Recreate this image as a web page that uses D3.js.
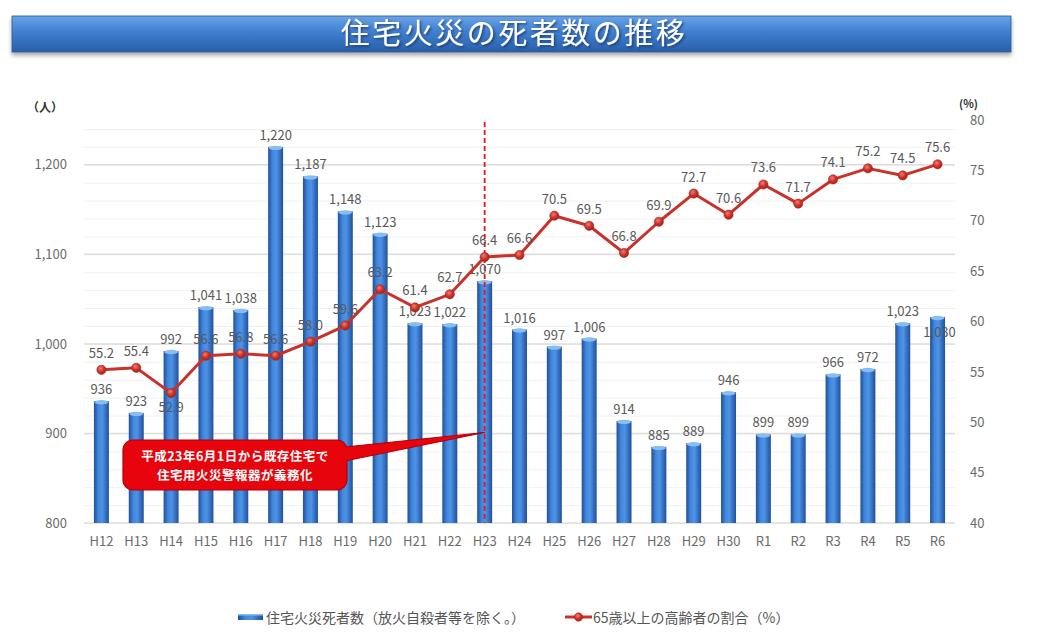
<!DOCTYPE html>
<html lang="ja">
<head>
<meta charset="utf-8">
<script src="https://cdn.jsdelivr.net/npm/d3@7"></script>
<style>
  body { margin: 0; background: #fff; }
  svg text { font-family: "Noto Sans CJK JP", "Noto Sans", sans-serif; }
</style>
</head>
<body>
<svg id="chart" width="1038" height="636"></svg>
<script>
// data
const years = ["H12","H13","H14","H15","H16","H17","H18","H19","H20","H21","H22","H23",
  "H24","H25","H26","H27","H28","H29","H30","R1","R2","R3","R4","R5","R6"];
const deaths = [936, 923, 992, 1041, 1038, 1220, 1187, 1148, 1123, 1023, 1022, 1070,
  1016, 997, 1006, 914, 885, 889, 946, 899, 899, 966, 972, 1023, 1030];
const elderlyShare = [55.2, 55.4, 52.9, 56.6, 56.8, 56.6, 58.0, 59.6, 63.2, 61.4, 62.7, 66.4,
  66.6, 70.5, 69.5, 66.8, 69.9, 72.7, 70.6, 73.6, 71.7, 74.1, 75.2, 74.5, 75.6];
const leftTicks = [800, 900, 1000, 1100, 1200];
const rightTicks = [40, 45, 50, 55, 60, 65, 70, 75, 80];
const title = "住宅火災の死者数の推移";
const barName = "住宅火災死者数（放火自殺者等を除く。）";
const lineName = "65歳以上の高齢者の割合（%）";
const markYear = "H23";
const calloutLines = ["平成23年6月1日から既存住宅で", "住宅用火災警報器が義務化"];

const svg = d3.select("#chart");
const defs = svg.append("defs");

const plotL = 84, plotR = 955, plotT = 120, plotB = 523;

const x = d3.scaleBand().domain(years).range([plotL, plotR]).paddingInner(0.57).paddingOuter(0.285);
const yL = d3.scaleLinear().domain([800, 1250]).range([plotB, plotT]);
const yR = d3.scaleLinear().domain([40, 80]).range([plotB, plotT]);

// gradients
const bg = defs.append("linearGradient").attr("id", "barGrad").attr("x1", 0).attr("x2", 1).attr("y1", 0).attr("y2", 0);
[[0, "#1f4f9c"], [0.3, "#4287dc"], [0.55, "#4d93e6"], [1, "#21509c"]]
  .forEach(([o, c]) => bg.append("stop").attr("offset", o).attr("stop-color", c));

const tg = defs.append("linearGradient").attr("id", "titleGrad").attr("x1", 0).attr("x2", 0).attr("y1", 0).attr("y2", 1);
[[0, "#6aa3e6"], [0.45, "#3f7fd0"], [1, "#2a5ea9"]]
  .forEach(([o, c]) => tg.append("stop").attr("offset", o).attr("stop-color", c));

const mg = defs.append("radialGradient").attr("id", "markGrad").attr("cx", 0.4).attr("cy", 0.35).attr("r", 0.7);
[[0, "#f08070"], [0.5, "#d0352c"], [1, "#9c1f1a"]]
  .forEach(([o, c]) => mg.append("stop").attr("offset", o).attr("stop-color", c));

const shadow = defs.append("filter").attr("id", "tshadow").attr("x", -0.1).attr("y", -0.2).attr("width", 1.2).attr("height", 1.6);
shadow.append("feDropShadow").attr("dx", 1.5).attr("dy", 1.5).attr("stdDeviation", 1).attr("flood-color", "#1a3560").attr("flood-opacity", 0.8);

const bshadow = defs.append("filter").attr("id", "bshadow").attr("x", -0.05).attr("y", -0.2).attr("width", 1.1).attr("height", 1.6);
bshadow.append("feDropShadow").attr("dx", 0).attr("dy", 3).attr("stdDeviation", 2).attr("flood-color", "#000").attr("flood-opacity", 0.35);

// title banner
svg.append("rect").attr("x", 12).attr("y", 16).attr("width", 999).attr("height", 36)
  .attr("fill", "url(#titleGrad)").attr("stroke", "#2c5a9c").attr("stroke-width", 0.8)
  .attr("filter", "url(#bshadow)");
svg.append("text").attr("x", 514).attr("y", 44).attr("text-anchor", "middle")
  .attr("font-size", 29).attr("letter-spacing", 2.5).attr("fill", "#fff")
  .attr("filter", "url(#tshadow)").text(title);

// gridlines
const minor = d3.range(800, 1251, 20);
svg.append("g").selectAll("line").data(minor).join("line")
  .attr("x1", plotL).attr("x2", plotR).attr("y1", d => yL(d) + 0.5).attr("y2", d => yL(d) + 0.5)
  .attr("stroke", "#f1f1f1").attr("stroke-width", 1);
svg.append("g").selectAll("line").data(leftTicks).join("line")
  .attr("x1", plotL).attr("x2", plotR).attr("y1", d => yL(d)).attr("y2", d => yL(d))
  .attr("stroke", "#dedede").attr("stroke-width", 1.5);

// axes
const numFont = "'Noto Sans', 'Open Sans', sans-serif";
const axL = svg.append("g").attr("transform", `translate(${plotL},0)`)
  .call(d3.axisLeft(yL).tickValues(leftTicks).tickFormat(d3.format(",")).tickSize(0).tickPadding(17));
const axR = svg.append("g").attr("transform", `translate(${plotR},0)`)
  .call(d3.axisRight(yR).tickValues(rightTicks).tickSize(0).tickPadding(15));
const axB = svg.append("g").attr("transform", `translate(0,${plotB})`)
  .call(d3.axisBottom(x).tickSize(0).tickPadding(14));
[axL, axR, axB].forEach(a => {
  a.select(".domain").remove();
  a.selectAll("text").attr("font-size", 13).attr("fill", "#6b6b6b").attr("font-family", numFont);
});

svg.append("text").attr("x", 27).attr("y", 112).attr("font-size", 12).attr("font-weight", "bold")
  .attr("fill", "#333").text("（人）");
svg.append("text").attr("x", 959).attr("y", 108).attr("font-size", 11).attr("font-weight", "bold")
  .attr("fill", "#333").text("(%)");

// bars
const bars = svg.append("g");
const bw = x.bandwidth();
bars.selectAll("rect").data(years).join("rect")
  .attr("x", d => x(d)).attr("width", bw)
  .attr("y", (d, i) => yL(deaths[i])).attr("height", (d, i) => plotB - yL(deaths[i]))
  .attr("fill", "url(#barGrad)");
bars.selectAll("ellipse").data(years).join("ellipse")
  .attr("cx", d => x(d) + bw / 2).attr("cy", (d, i) => yL(deaths[i]) + 1)
  .attr("rx", bw / 2 - 0.5).attr("ry", 2.2).attr("fill", "#86bdf2");

// dashed marker line
const mx = x(markYear) + bw / 2;
svg.append("line").attr("x1", mx).attr("x2", mx).attr("y1", plotT + 2).attr("y2", plotB)
  .attr("stroke", "#e8141b").attr("stroke-width", 1.8).attr("stroke-dasharray", "5,3");

// bar labels
svg.append("g").selectAll("text").data(years).join("text")
  .attr("x", d => x(d) + bw / 2 + (d === "R6" ? 2 : 0))
  .attr("y", (d, i) => yL(deaths[i]) + (d === "R6" ? 20 : -7))
  .attr("text-anchor", "middle").attr("font-size", 13).attr("fill", "#595959")
  .attr("font-family", numFont)
  .text((d, i) => d3.format(",")(deaths[i]));

// line series
const cx = d => x(d) + bw / 2;
const line = d3.line().x(d => cx(d)).y((d, i) => yR(elderlyShare[i]));
svg.append("path").attr("d", line(years)).attr("fill", "none")
  .attr("stroke", "#c8322b").attr("stroke-width", 3).attr("stroke-linejoin", "round");
svg.append("g").selectAll("circle").data(years).join("circle")
  .attr("cx", cx).attr("cy", (d, i) => yR(elderlyShare[i])).attr("r", 4.6)
  .attr("fill", "url(#markGrad)").attr("stroke", "#a5231d").attr("stroke-width", 0.6);
svg.append("g").selectAll("text").data(years).join("text")
  .attr("x", cx)
  .attr("y", (d, i) => yR(elderlyShare[i]) + (d === "H14" ? 19 : -12))
  .attr("text-anchor", "middle").attr("font-size", 13).attr("fill", "#595959")
  .attr("font-family", numFont)
  .text((d, i) => elderlyShare[i].toFixed(1));

// callout
const co = svg.append("g");
co.append("path")
  .attr("d", `M345,447 L${mx},${yL(900) - 1} L345,461 Z`)
  .attr("fill", "#e8040c").attr("stroke", "#b00008").attr("stroke-width", 1);
co.append("rect").attr("x", 123).attr("y", 440).attr("width", 224).attr("height", 50)
  .attr("rx", 10).attr("fill", "#e8040c").attr("stroke", "#b00008").attr("stroke-width", 1.2);
co.append("rect").attr("x", 338).attr("y", 448).attr("width", 12).attr("height", 12).attr("fill", "#e8040c");
co.selectAll("text").data(calloutLines).join("text")
  .attr("x", 235).attr("y", (d, i) => 461 + i * 19)
  .attr("text-anchor", "middle").attr("font-size", 12.5).attr("letter-spacing", 0.5)
  .attr("font-weight", "bold").attr("fill", "#fff").text(d => d);

// legend
const lg = svg.append("g");
lg.append("rect").attr("x", 238).attr("y", 614).attr("width", 25).attr("height", 6).attr("fill", "url(#barGrad)");
lg.append("rect").attr("x", 238).attr("y", 614).attr("width", 25).attr("height", 1.5).attr("fill", "#86bdf2");
lg.append("text").attr("x", 266).attr("y", 623).attr("font-size", 14).attr("fill", "#555").text(barName);
lg.append("line").attr("x1", 565).attr("x2", 592).attr("y1", 617).attr("y2", 617)
  .attr("stroke", "#c8322b").attr("stroke-width", 3);
lg.append("circle").attr("cx", 578.5).attr("cy", 617).attr("r", 4.2)
  .attr("fill", "url(#markGrad)").attr("stroke", "#a5231d").attr("stroke-width", 0.6);
lg.append("text").attr("x", 593).attr("y", 623).attr("font-size", 14).attr("fill", "#555").text(lineName);
</script>
</body>
</html>
